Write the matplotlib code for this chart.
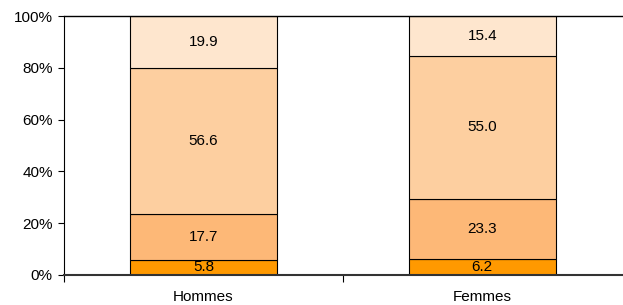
import numpy as np
import matplotlib.pyplot as plt

plt.rcParams['font.family'] = ['Liberation Sans', 'DejaVu Sans']

categories = ['Hommes', 'Femmes']
seg1 = [5.8, 6.2]
seg2 = [17.7, 23.3]
seg3 = [56.6, 55.0]
seg4 = [19.9, 15.4]
colors = ['#FF9900', '#FDB877', '#FDCFA0', '#FEE6CE']

fig = plt.figure(figsize=(6.23, 3.05), dpi=100)
ax = fig.add_axes([0.1027, 0.0984, 0.8953, 0.8491])

fs = 11

x = np.arange(len(categories))
bottom = np.zeros(len(categories))
for vals, col in zip([seg1, seg2, seg3, seg4], colors):
    vals = np.array(vals)
    ax.bar(x, vals, 0.525, bottom=bottom, color=col, edgecolor='black', linewidth=0.8)
    for xi, b, v in zip(x, bottom, vals):
        ax.text(xi, b + v / 2, f'{v:.1f}', ha='center', va='center', fontsize=fs)
    bottom += vals

ax.set_xlim(-0.5, 1.5)
ax.set_ylim(0, 100)
ax.set_yticks(np.arange(0, 101, 20))
ax.set_yticklabels([f'{v}%' for v in range(0, 101, 20)], fontsize=fs)
ax.set_xticks(x)
ax.set_xticklabels(categories, fontsize=fs)
ax.tick_params(axis='x', length=0, pad=11)
ax.set_xticks([-0.5, 0.5], minor=True)
ax.tick_params(axis='x', which='minor', length=5, width=0.8)
ax.tick_params(axis='y', length=4, width=0.8, pad=4)
ax.spines['right'].set_visible(False)
ax.spines['top'].set_linewidth(1.0)
ax.spines['left'].set_linewidth(0.8)
ax.spines['bottom'].set_linewidth(1.5)
ax.spines['bottom'].set_color('#333333')

fig.savefig('out.png', dpi=100)
